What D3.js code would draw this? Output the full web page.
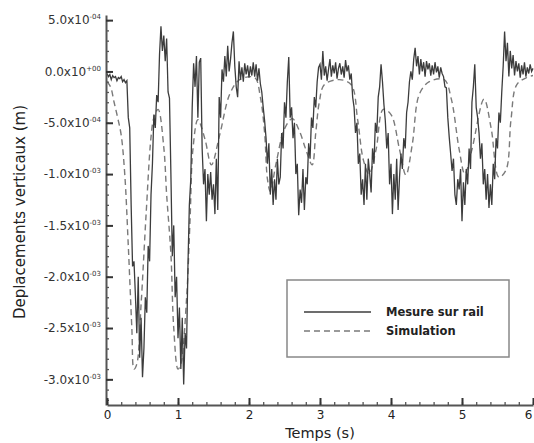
<!DOCTYPE html>
<html><head><meta charset="utf-8">
<script src="https://cdn.jsdelivr.net/npm/d3@7"></script>
<style>
body{margin:0;background:#fff}
svg{display:block}
text{font-family:"DejaVu Sans","Liberation Sans",Arial,sans-serif}
</style>
</head><body>
<svg id="c" width="534" height="443"></svg>
<script>
// ---- DATA (displacement values in units of 1e-4 m) ----
const tStep = 0.02; // sampling step of the measured signal (s)
const mesure = [
 -0.2,-0.5,-0.3,-0.8,-0.4,-0.6,-0.5,-0.9,-0.6,-0.7,
 -0.5,-1.0,-0.8,-1.1,-0.9,-4.5,-5.5,-13,-19,-18.5,
 -21.8,-25.5,-20,-27.9,-24,-29.8,-27,-22,-23.5,-17,
 -18.5,-12,-9,-4.2,-5.5,-2.3,-3.0,1.7,4.4,2.0,
 3.5,1.0,3.2,-2.0,-2.6,-10,-18,-15,-22,-20,
 -26,-23,-29,-24,-30.5,-25.5,-27,-19,-13,-10.5,
 -3.5,0.8,-1.5,1.5,-4.5,0.9,1.3,-7.5,-11.0,-9.5,
 -14.6,-10.0,-12.0,-9.8,-12.5,-11.0,-13.9,-8.5,-13.5,-2.5,
 -4.5,0.2,-1.0,1.5,-0.5,2.5,0.0,1.2,2.8,3.9,
 0.5,-1.5,-2.5,1.0,-0.8,0.4,-1.0,0.8,-0.3,0.6,
 -0.6,0.5,-0.4,0.9,-0.5,0.7,-0.9,0.3,-1.2,-2.0,
 -3.5,-4.8,-6.5,-9.0,-7.0,-12.0,-9.5,-13.0,-10.5,-12.5,
 -8.5,-11.0,-10.3,-6.0,-7.5,-3.0,-4.5,-1.0,1.4,-4.5,
 -3.5,-6.5,-5.0,-10.0,-9.0,-14.0,-11.5,-12.8,-9.5,-13.5,
 -10.3,-11.0,-7.0,-8.5,-4.5,-5.5,-2.5,-3.5,-1.0,0.4,
 0.7,-0.8,2.0,-0.4,0.5,-0.9,0.2,1.2,-0.5,0.6,
 -0.2,0.9,-0.7,0.3,0.8,-0.3,0.5,-0.6,1.1,0.0,
 0.6,-0.8,-0.2,-2.5,-3.5,-6.0,-5.0,-9.0,-8.0,-12.0,
 -10.5,-13.0,-9.0,-12.5,-8.5,-10.0,-11.8,-7.5,-9.0,-5.0,
 -6.0,-2.5,-1.5,0.7,-1.0,-3.2,-4.8,-7.5,-6.0,-11.0,
 -9.0,-13.9,-10.0,-12.5,-8.5,-13.5,-10.3,-8.0,-9.5,-6.5,
 -7.5,-4.0,-3.0,-1.0,0.0,-0.8,1.2,2.3,0.5,1.5,
 -0.3,1.2,0.0,0.9,-0.5,1.0,0.2,0.8,-0.4,0.6,
 -0.3,0.9,-0.1,0.5,-0.6,0.4,-0.2,-0.5,-1.5,-1.6,
 -4.5,-6.4,-8.0,-9.7,-8.5,-12.0,-13.0,-10.5,-11.5,-9.5,
 -14.6,-10.8,-13.0,-9.5,-11.0,-7.5,-9.5,-3.0,-1.5,0.7,
 -3.5,-4.5,-6.0,-8.5,-7.0,-11.0,-9.5,-12.5,-10.0,-13.3,
 -11.0,-13.0,-9.0,-10.5,-6.5,-7.5,-4.0,-5.0,-2.0,0.5,
 3.9,1.0,2.8,-0.5,2.0,0.3,1.6,-0.4,1.0,0.0,
 0.8,-0.6,0.6,-0.3,0.9,-0.5,0.4,-0.2,0.7,0.0,
 0.3
];
const simT = [0,0.05,0.10,0.15,0.20,0.25,0.30,0.35,0.38,0.42,0.48,0.55,0.62,0.66,0.72,0.80,0.84,0.90,0.94,1.00,
  1.04,1.12,1.17,1.21,1.28,1.38,1.47,1.59,1.73,1.87,2.08,2.16,2.22,2.26,2.30,2.38,2.50,2.61,2.71,2.80,
  2.89,2.94,2.99,3.06,3.27,3.44,3.53,3.61,3.69,3.79,3.89,4.00,4.12,4.21,4.30,4.40,4.54,4.75,4.85,4.96,
  5.04,5.14,5.31,5.41,5.52,5.62,5.69,5.77,5.91,6.0];
const simV = [-1.0,-1.5,-3.0,-4.5,-6.2,-10,-17,-25,-29,-28.5,-22.7,-14,-6.4,-4.5,-3.7,-7.4,-12,-17.8,-25,-29,
  -28.5,-22.2,-14.4,-7.6,-4.7,-6.6,-9.1,-6.1,-2.2,-0.8,-0.6,-2.5,-6.0,-10.5,-11.7,-9.0,-5.6,-4.6,-5.8,-7.6,
  -9.1,-6.0,-3.0,-1.3,-0.8,-1.3,-4.7,-8.6,-10,-7.6,-3.7,-4.2,-7.6,-10.1,-7.1,-2.2,-1.0,-0.8,-2.7,-7.6,
  -10,-7.6,-2.7,-5.5,-10.3,-9.6,-4.7,-1.3,-0.6,-0.4];
const unit = 1e-4;
const yTicks = [5e-4, 0, -5e-4, -1e-3, -1.5e-3, -2e-3, -2.5e-3, -3e-3];
const xTicks = [0,1,2,3,4,5,6];
const seriesNames = ["Mesure sur rail", "Simulation"];
const xTitle = "Temps (s)";
const yTitle = "Deplacements verticaux (m)";

// ---- CHART ----
const svg = d3.select("#c");
const x = d3.scaleLinear().domain([0,6]).range([107,533]);
const y = d3.scaleLinear().domain([-3.25e-3, 5.5e-4]).range([405,15]);

const mesData = mesure.map((v,i)=>({t:i*tStep, v:v*unit}));
const simData = simT.map((t,i)=>({t:t, v:simV[i]*unit}));

svg.append("defs").append("clipPath").attr("id","clip")
  .append("rect").attr("x",107).attr("y",0).attr("width",427).attr("height",405);

const line = d3.line().x(d=>x(d.t)).y(d=>y(d.v));
const sline = d3.line().x(d=>x(d.t)).y(d=>y(d.v)).curve(d3.curveCatmullRom);

const plot = svg.append("g").attr("clip-path","url(#clip)");
plot.append("path").datum(simData).attr("d",sline)
  .attr("fill","none").attr("stroke","#7a7a7a").attr("stroke-width",1.4).attr("stroke-dasharray","6,4");
plot.append("path").datum(mesData).attr("d",line)
  .attr("fill","none").attr("stroke","#3c3c3c").attr("stroke-width",1.3).attr("stroke-linejoin","miter");

function fmt(v){
  if (v === 0) return ["0.0x10", "+00"];
  const e = Math.floor(Math.log10(Math.abs(v)) + 1e-9);
  const m = v / Math.pow(10, e);
  const es = (e < 0 ? "-" : "+") + String(Math.abs(e)).padStart(2,"0");
  return [m.toFixed(1) + "x10", es];
}

// Y axis
const yMinor = d3.range(-32, 6).map(k=>k*1e-4);
svg.append("g").attr("transform","translate(106,0)")
  .call(d3.axisLeft(y).tickValues(yMinor).tickSize(-3).tickFormat(""))
  .call(g=>{g.select(".domain").remove(); g.selectAll("line").attr("stroke","#555").attr("stroke-width",1.3);});
const ya = svg.append("g").attr("transform","translate(106,0)")
  .call(d3.axisLeft(y).tickValues(yTicks).tickSize(-7).tickSizeOuter(0).tickPadding(5).tickFormat(""));
ya.select(".domain").attr("stroke","#555").attr("stroke-width",2);
ya.selectAll(".tick line").attr("stroke","#333").attr("stroke-width",2);
ya.selectAll(".tick text").each(function(d){
  const f = fmt(d);
  const t = d3.select(this).attr("fill","#333").attr("font-size",12);
  t.text(null);
  t.append("tspan").text(f[0]);
  t.append("tspan").attr("dy","-5").attr("font-size",7).text(f[1]);
});

// X axis
const xMinor = d3.range(0, 31).map(k=>k*0.2);
svg.append("g").attr("transform","translate(0,405)")
  .call(d3.axisBottom(x).tickValues(xMinor).tickSize(-3).tickFormat(""))
  .call(g=>{g.select(".domain").remove(); g.selectAll("line").attr("stroke","#555").attr("stroke-width",1.3);});
const xa = svg.append("g").attr("transform","translate(0,405)")
  .call(d3.axisBottom(x).tickValues(xTicks).tickSize(-7).tickSizeOuter(0).tickPadding(5).tickFormat(d3.format("d")));
xa.select(".domain").attr("stroke","#555").attr("stroke-width",2);
xa.selectAll(".tick line").attr("stroke","#333").attr("stroke-width",2);
xa.selectAll(".tick text").attr("fill","#222").attr("font-size",12)
  .filter(d=>d===6).attr("text-anchor","end").attr("dx",-1);

// Titles
svg.append("text").attr("x",320).attr("y",438).attr("text-anchor","middle")
  .attr("font-size",14.5).attr("fill","#222").text(xTitle);
svg.append("text").attr("transform","translate(25,212) rotate(-90)").attr("text-anchor","middle")
  .attr("font-size",15).attr("fill","#222").text(yTitle);

// Legend
const lg = svg.append("g");
lg.append("rect").attr("x",287).attr("y",280).attr("width",222).attr("height",77)
  .attr("fill","#fff").attr("stroke","#888").attr("stroke-width",1.5);
const styles = [{dash:null, col:"#3c3c3c"}, {dash:"6,4", col:"#7a7a7a"}];
seriesNames.forEach((name,i)=>{
  const yy = 312 + i*19;
  lg.append("line").attr("x1",304).attr("x2",371).attr("y1",yy).attr("y2",yy)
    .attr("stroke",styles[i].col).attr("stroke-width",1.3)
    .attr("stroke-dasharray",styles[i].dash);
  lg.append("text").attr("x",386).attr("y",yy+4).attr("font-size",11.5).attr("font-weight","bold")
    .attr("fill","#222").text(name);
});
</script>
</body></html>
